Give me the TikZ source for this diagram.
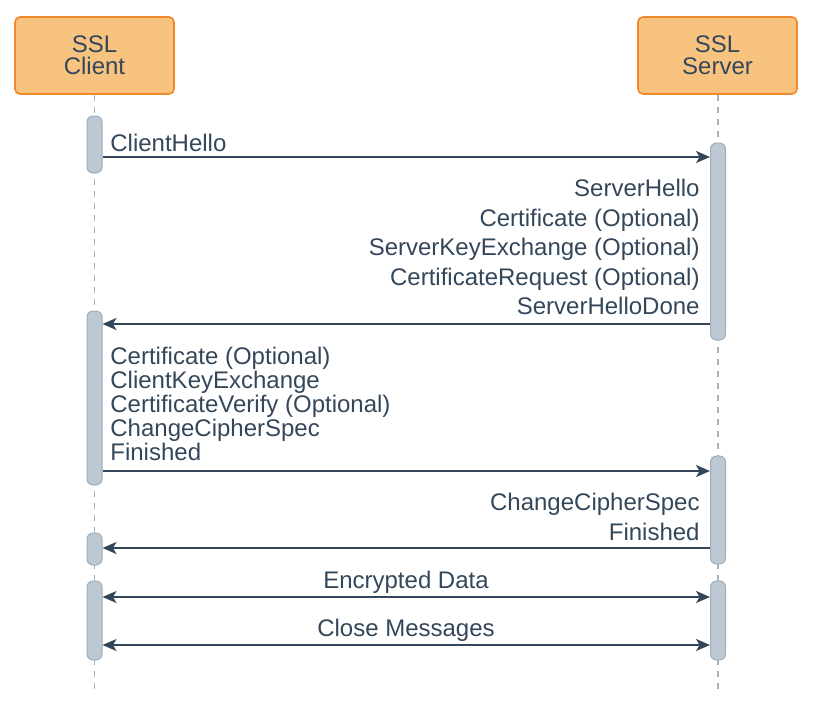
\documentclass[tikz,border=0pt]{standalone}
\usepackage{fontspec}
\setmainfont{Liberation Sans}
\usetikzlibrary{arrows.meta,positioning,calc}
\definecolor{partFill}{HTML}{F8C27F}
\definecolor{partDraw}{HTML}{EE8A2B}
\definecolor{inkBlue}{HTML}{34475A}
\definecolor{barFill}{HTML}{BCC8D4}
\definecolor{barDraw}{HTML}{9FADBA}
\definecolor{lifeGray}{HTML}{A9B4C0}

\begin{document}
\begin{tikzpicture}[x=0.5pt,y=-0.5pt,
                party/.style={rounded corners=2.5pt,fill=partFill,draw=partDraw,line width=0.8pt,
                              minimum width=79.5pt,minimum height=38.5pt,inner sep=0pt,
                              align=center,font=\fontsize{12}{11}\selectfont,text=inkBlue},
                bar/.style={rounded corners=3pt,fill=barFill,draw=barDraw,line width=0.5pt,
                            minimum width=7.5pt,inner sep=0pt},
                life/.style={draw=lifeGray,line width=0.6pt,dash pattern=on 3pt off 3pt},
                msg/.style={draw=inkBlue,line width=0.85pt,-{Stealth[length=7pt,width=6pt,inset=1.8pt]}},
                dmsg/.style={msg,{Stealth[length=7pt,width=6pt,inset=1.8pt]}-{Stealth[length=7pt,width=6pt,inset=1.8pt]}},
                label/.style={inner sep=0pt,text=inkBlue,font=\fontsize{12}{14.75}\selectfont}
            ]
                \useasboundingbox (0,0) rectangle (817,713);
                % participants
                \node[party] (client) at (94.5,55.5) {SSL\\Client};
                \node[party] (server) at (717.5,55.5) {SSL\\Server};
                \coordinate (clientEnd) at (94.5,690);
                \coordinate (serverEnd) at (718,690);
                \draw[life] (client.south) -- (clientEnd);
                \draw[life] (server.south -| serverEnd) -- (serverEnd);
                % activation bars
                \node[bar,minimum height=28.5pt] (cbarA) at (94.5,144.5) {};
                \node[bar,minimum height=98.5pt] (sbarA) at (718,241.5) {};
                \node[bar,minimum height=87pt] (cbarB) at (94.5,398) {};
                \node[bar,minimum height=54pt] (sbarB) at (718,510) {};
                \node[bar,minimum height=16pt] (cbarC) at (94.5,549) {};
                \node[bar,minimum height=39.5pt] (cbarD) at (94.5,620.5) {};
                \node[bar,minimum height=39.5pt] (sbarC) at (718,620.5) {};
                % message rows
                \coordinate (rowA) at (0,157);
                \coordinate (rowB) at (0,324);
                \coordinate (rowC) at (0,471);
                \coordinate (rowD) at (0,548);
                \coordinate (rowE) at (0,597);
                \coordinate (rowF) at (0,645);
                \draw[msg] (cbarA.east |- rowA) -- (sbarA.west |- rowA);
                \draw[msg] (sbarA.west |- rowB) -- (cbarB.east |- rowB);
                \draw[msg] (cbarB.east |- rowC) -- (sbarB.west |- rowC);
                \draw[msg] (sbarB.west |- rowD) -- (cbarC.east |- rowD);
                \draw[dmsg] (cbarD.east |- rowE) -- (sbarC.west |- rowE);
                \draw[dmsg] (cbarD.east |- rowF) -- (sbarC.west |- rowF);
                % labels
                \node[label,anchor=north west] (helloC) at (110,134) {ClientHello};
                \node[label,anchor=north east,align=right] (helloS) at (700,179)
                    {ServerHello\\Certificate (Optional)\\ServerKeyExchange (Optional)\\CertificateRequest (Optional)\\ServerHelloDone};
                \node[label,anchor=north west,align=left,font=\fontsize{12}{12}\selectfont] (keysC) at (110,347)
                    {Certificate (Optional)\\ClientKeyExchange\\CertificateVerify (Optional)\\ChangeCipherSpec\\Finished};
                \node[label,anchor=north east,align=right,font=\fontsize{12}{15}\selectfont] (finS) at (700,493)
                    {ChangeCipherSpec\\Finished};
                \node[label,anchor=base] (dataL) at (406,588.5) {Encrypted Data};
                \node[label,anchor=base] (closeL) at (406,636.5) {Close Messages};
            \end{tikzpicture}
\end{document}
